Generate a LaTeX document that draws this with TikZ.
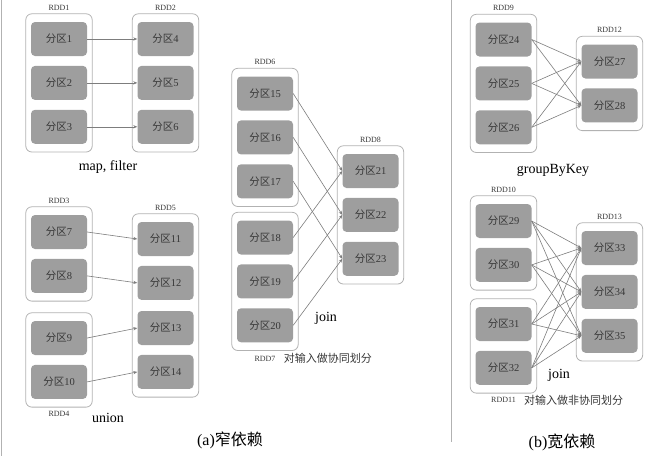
\documentclass[tikz,border=0pt]{standalone}
\usepackage{fontspec}
\setmainfont{Liberation Serif}
\newfontfamily\cjk{Noto Sans CJK SC}
\usetikzlibrary{positioning, fit, arrows.meta}
\definecolor{partcol}{RGB}{158,158,158}
\definecolor{boxcol}{RGB}{178,178,178}
\definecolor{linkcol}{RGB}{125,125,125}
\definecolor{textcol}{RGB}{55,55,55}
\newcommand{\fq}[1]{{\cjk 分区}#1}

\begin{document}
\begin{tikzpicture}[
			x=1pt,
			y=-1pt,
			node distance=9.5pt,
			fenqu/.style={
				fill=partcol,
				rounded corners=4pt,
				minimum width=56pt,
				minimum height=34pt,
				inner sep=0pt,
				text=textcol,
				font=\fontsize{10.5}{12}\selectfont
			},
			rdd/.style={
				draw=boxcol,
				line width=0.8pt,
				rounded corners=6pt,
				inner xsep=5pt,
				inner ysep=8pt
			},
			lbl/.style={
				text=textcol,
				inner sep=1pt,
				font=\fontsize{8}{9}\selectfont
			},
			op/.style={font=\fontsize{14}{16}\selectfont},
			note/.style={text=textcol, inner sep=1pt, font=\fontsize{11}{12}\cjk},
			title/.style={font=\fontsize{16}{18}\selectfont},
			every edge/.style={
				draw=linkcol,
				-{Stealth[length=4pt,width=3.2pt]},
				line width=0.6pt
			}
			]
			\useasboundingbox (0,0) rectangle (654,456);
			\draw[boxcol] (1,0) -- (1,456);
			\draw[boxcol, line width=0.8pt] (451,0) -- (451,442);

			% Partitions (a)
			\node[fenqu] (p1) at (59,39) {\fq{1}};
			\node[fenqu] (p2) [below=of p1] {\fq{2}};
			\node[fenqu] (p3) [below=of p2] {\fq{3}};
			\node[fenqu] (p4) at (165.5,39) {\fq{4}};
			\node[fenqu] (p5) [below=of p4] {\fq{5}};
			\node[fenqu] (p6) [below=of p5] {\fq{6}};
			\node[fenqu] (p7) at (59,232) {\fq{7}};
			\node[fenqu] (p8) [below=of p7] {\fq{8}};
			\node[fenqu] (p9) at (59,338) {\fq{9}};
			\node[fenqu] (p10) [below=of p9] {\fq{10}};
			\node[fenqu] (p11) at (165.5,239) {\fq{11}};
			\node[fenqu] (p12) [below=of p11] {\fq{12}};
			\node[fenqu] (p13) at (165.5,328) {\fq{13}};
			\node[fenqu] (p14) [below=of p13] {\fq{14}};
			\node[fenqu] (p15) at (265,93.5) {\fq{15}};
			\node[fenqu] (p16) [below=of p15] {\fq{16}};
			\node[fenqu] (p17) [below=of p16] {\fq{17}};
			\node[fenqu] (p18) at (265,237.5) {\fq{18}};
			\node[fenqu] (p19) [below=of p18] {\fq{19}};
			\node[fenqu] (p20) [below=of p19] {\fq{20}};
			\node[fenqu] (p21) at (370.5,171) {\fq{21}};
			\node[fenqu] (p22) [below=of p21] {\fq{22}};
			\node[fenqu] (p23) [below=of p22] {\fq{23}};

			% Partitions (b)
			\node[fenqu] (p24) at (503.5,39.5) {\fq{24}};
			\node[fenqu] (p25) [below=of p24] {\fq{25}};
			\node[fenqu] (p26) [below=of p25] {\fq{26}};
			\node[fenqu] (p27) at (609.5,61.5) {\fq{27}};
			\node[fenqu] (p28) [below=of p27] {\fq{28}};
			\node[fenqu] (p29) at (503.5,221) {\fq{29}};
			\node[fenqu] (p30) [below=of p29] {\fq{30}};
			\node[fenqu] (p31) at (503.5,324) {\fq{31}};
			\node[fenqu] (p32) [below=of p31] {\fq{32}};
			\node[fenqu] (p33) at (609.5,248) {\fq{33}};
			\node[fenqu] (p34) [below=of p33] {\fq{34}};
			\node[fenqu] (p35) [below=of p34] {\fq{35}};

			% RDDs
			\node[rdd, fit=(p1)(p3)] (rdd1) {};
			\node[rdd, fit=(p4)(p6)] (rdd2) {};
			\node[rdd, fit=(p7)(p8)] (rdd3) {};
			\node[rdd, fit=(p9)(p10)] (rdd4) {};
			\node[rdd, fit=(p11)(p14)] (rdd5) {};
			\node[rdd, fit=(p15)(p17)] (rdd6) {};
			\node[rdd, fit=(p18)(p20)] (rdd7) {};
			\node[rdd, fit=(p21)(p23)] (rdd8) {};
			\node[rdd, fit=(p24)(p26)] (rdd9) {};
			\node[rdd, fit=(p29)(p30)] (rdd10) {};
			\node[rdd, fit=(p31)(p32)] (rdd11) {};
			\node[rdd, fit=(p27)(p28)] (rdd12) {};
			\node[rdd, fit=(p33)(p35)] (rdd13) {};

			% Labels
			\node[lbl, above=2pt of rdd1] (lbl1) {RDD1};
			\node[lbl, above=2pt of rdd2] (lbl2) {RDD2};
			\node[lbl, above=2pt of rdd3] (lbl3) {RDD3};
			\node[lbl, below=3pt of rdd4] (lbl4) {RDD4};
			\node[lbl, above=2pt of rdd5] (lbl5) {RDD5};
			\node[lbl, above=2pt of rdd6] (lbl6) {RDD6};
			\node[lbl, below=4pt of rdd7] (lbl7) {RDD7};
			\node[note, right=6pt of lbl7] (note7) {对输入做协同划分};
			\node[lbl, above=2pt of rdd8] (lbl8) {RDD8};
			\node[lbl, above=2pt of rdd9] (lbl9) {RDD9};
			\node[lbl, above=2pt of rdd10] (lbl10) {RDD10};
			\node[lbl, below=3pt of rdd11] (lbl11) {RDD11};
			\node[note, right=6pt of lbl11] (note11) {对输入做非协同划分};
			\node[lbl, above=2pt of rdd12] (lbl12) {RDD12};
			\node[lbl, above=2pt of rdd13] (lbl13) {RDD13};

			\node[op] (opmap) at (108,167) {map, filter};
			\node[op] (opunion) at (108,418) {union};
			\node[op] (opjoin) at (326,318) {join};
			\node[op] (opgroup) at (553,170) {groupByKey};
			\node[op] (opjoinb) at (559,375) {join};

			\node[title] (tita) at (230,440) {(a){\cjk 窄依赖}};
			\node[title] (titb) at (562,442) {(b){\cjk 宽依赖}};

			% Narrow dependencies
			\path
			(p1.east) edge (p4.west)
			(p2.east) edge (p5.west)
			(p3.east) edge (p6.west)
			(p7.east) edge (p11.west)
			(p8.east) edge (p12.west)
			(p9.east) edge (p13.west)
			(p10.east) edge (p14.west)
			(p15.east) edge (p21.west)
			(p16.east) edge (p22.west)
			(p17.east) edge (p23.west)
			(p18.east) edge (p21.west)
			(p19.east) edge (p22.west)
			(p20.east) edge (p23.west);

			% Wide dependencies
			\path
			(p24.east) edge (p27.west)
			(p24.east) edge (p28.west)
			(p25.east) edge (p27.west)
			(p25.east) edge (p28.west)
			(p26.east) edge (p27.west)
			(p26.east) edge (p28.west)
			(p29.east) edge (p33.west)
			(p29.east) edge (p34.west)
			(p29.east) edge (p35.west)
			(p30.east) edge (p33.west)
			(p30.east) edge (p34.west)
			(p30.east) edge (p35.west)
			(p31.east) edge (p33.west)
			(p31.east) edge (p34.west)
			(p31.east) edge (p35.west)
			(p32.east) edge (p33.west)
			(p32.east) edge (p34.west)
			(p32.east) edge (p35.west);
		\end{tikzpicture}
\end{document}
